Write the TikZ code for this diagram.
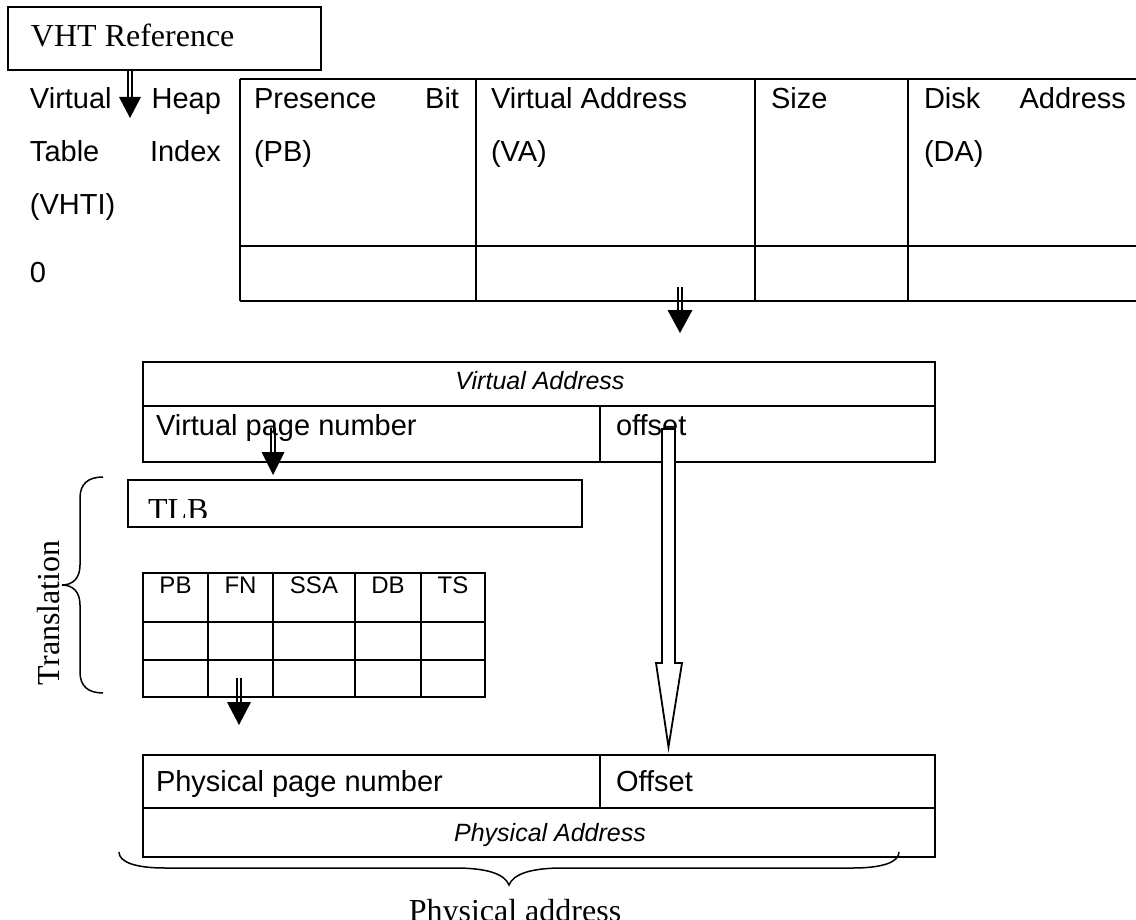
\documentclass[tikz,border=0pt]{standalone}
\usepackage{fontspec}
\setmainfont{Liberation Serif}
\newfontfamily\arialf{Liberation Sans}
\newcommand{\dbarrow}[5]{%
  \draw[line width=0.8pt] (#1-2,#2) -- (#1-2,#3+2) (#1+2,#2) -- (#1+2,#3+2);
  \fill (#1-#5,#3) -- (#1+#5,#3) -- (#1,#4) -- cycle;
}
\begin{document}
\begin{tikzpicture}[x=0.5pt,y=-0.5pt,
  line width=1pt,
  txt/.style={inner sep=0pt,font=\arialf\fontsize{14.5}{17}\selectfont},
  itxt/.style={inner sep=0pt,font=\arialf\itshape\fontsize{12.5}{15}\selectfont},
  stxt/.style={inner sep=0pt,font=\arialf\fontsize{12}{14}\selectfont},
  ttxt/.style={inner sep=0pt,font=\fontsize{16}{19}\selectfont},
  thinl/.style={line width=0.75pt},
]
\useasboundingbox (0,0) rectangle (1136,920);

% VHT reference box
\draw[thinl] (8,7) rectangle (321,70);
\node[ttxt,anchor=base west] (vht) at (30,47) {VHT Reference};

% left column text
\node[txt,anchor=base west] (l1a) at (29,109) {Virtual};
\node[txt,anchor=base east] (l1b) at (222,109) {Heap};
\node[txt,anchor=base west] (l2a) at (29,162) {Table};
\node[txt,anchor=base east] (l2b) at (222,162) {Index};
\node[txt,anchor=base west] (l3) at (29,214) {(VHTI)};
\node[txt,anchor=base west] (l4) at (29,282) {0};

% top table
\draw (240,79) -- (1140,79) (240,246) -- (1140,246) (240,301) -- (1140,301);
\draw (240,79) -- (240,301) (476,79) -- (476,301) (755,79) -- (755,301) (908,79) -- (908,301);
\node[txt,anchor=base west] (c1a) at (253,109) {Presence};
\node[txt,anchor=base east] (c1b) at (460,109) {Bit};
\node[txt,anchor=base west] (c1c) at (253,162) {(PB)};
\node[txt,anchor=base west] (c2a) at (490,109) {Virtual Address};
\node[txt,anchor=base west] (c2b) at (490,162) {(VA)};
\node[txt,anchor=base west] (c3a) at (770,109) {Size};
\node[txt,anchor=base west] (c4a) at (923,109) {Disk};
\node[txt,anchor=base east] (c4b) at (1127,109) {Address};
\node[txt,anchor=base west] (c4c) at (923,162) {(DA)};

\dbarrow{130}{71}{97}{118}{11}
\dbarrow{680}{287}{310}{333}{12.5}

% virtual address box
\draw (143,362) rectangle (935,462);
\draw (143,406) -- (935,406) (600,406) -- (600,462);
\node[itxt,anchor=base] (va) at (540,389) {Virtual Address};
\node[txt,anchor=base west] (vpn) at (155,435) {Virtual page number};
\node[txt,anchor=base west] (voff) at (615,435) {offset};

\dbarrow{273}{428}{452}{475}{11.5}

% TLB box
\draw[thinl] (128,480) rectangle (582,527);
\begin{scope}
  \clip (128,480) rectangle (582,517);
  \node[ttxt,anchor=base west] (tlb) at (147,520) {TLB};
\end{scope}

% small table
\draw (143,573) rectangle (485,697);
\draw (143,622) -- (485,622) (143,660) -- (485,660);
\draw (208,573) -- (208,697) (273,573) -- (273,697) (355,573) -- (355,697) (421,573) -- (421,697);
\node[stxt,anchor=base] (pb) at (175.5,593) {PB};
\node[stxt,anchor=base] (fn) at (240.5,593) {FN};
\node[stxt,anchor=base] (ssa) at (314,593) {SSA};
\node[stxt,anchor=base] (db) at (388,593) {DB};
\node[stxt,anchor=base] (ts) at (453,593) {TS};

\dbarrow{239}{678}{702}{725}{12}

% translation brace
\draw[thinl] (103,477) .. controls (88,477) and (80,484) .. (80,498) -- (80,565)
  .. controls (80,578) and (73,585) .. (62,585)
  .. controls (73,585) and (80,592) .. (80,605) -- (80,672)
  .. controls (80,686) and (88,693) .. (103,693);
\node[ttxt,rotate=90,anchor=base west] (trans) at (60,686) {Translation};

% physical address box
\draw (143,755) rectangle (935,857);
\draw (143,808) -- (935,808) (600,755) -- (600,808);
\node[txt,anchor=base west] (ppn) at (155,791) {Physical page number};
\node[txt,anchor=base west] (poff) at (615,791) {Offset};
\node[itxt,anchor=base] (pa) at (550,841) {Physical Address};

% hollow offset arrow
\filldraw[fill=white,line width=0.9pt] (662,429) -- (675,429) -- (675,663) -- (682,663)
  -- (668.5,747) -- (656,663) -- (662,663) -- cycle;

% bottom brace
\draw[thinl] (119,852) .. controls (119,862) and (135,868) .. (165,868) -- (455,868)
  .. controls (490,868) and (505,875) .. (509,885)
  .. controls (513,875) and (528,868) .. (563,868) -- (853,868)
  .. controls (883,868) and (899,862) .. (899,852);
\node[ttxt,anchor=base] (phys) at (515,921) {Physical address};
\end{tikzpicture}
\end{document}
